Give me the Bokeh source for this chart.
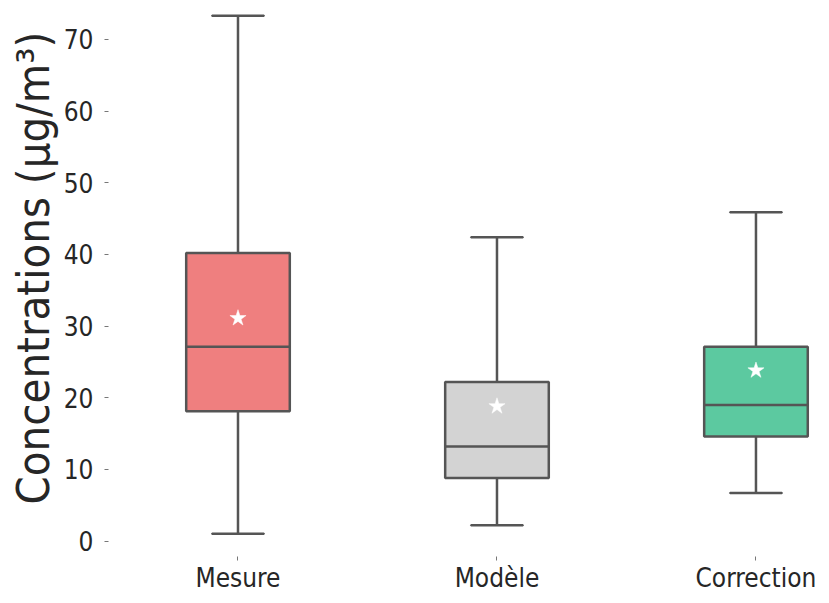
from bokeh.plotting import figure
from bokeh.models import FixedTicker, ColumnDataSource, Title
from bokeh.embed import file_html
from bokeh.resources import INLINE

categories = ["Mesure", "Modèle", "Correction"]
whisker_low = [1.0, 2.2, 6.7]
q1 = [18.1, 8.8, 14.6]
median = [27.1, 13.2, 19.0]
q3 = [40.2, 22.2, 27.1]
whisker_high = [73.3, 42.4, 45.9]
means = [31.1, 18.8, 23.8]
colors = ["#EF7F7F", "#D3D3D3", "#5CC9A0"]
y_ticks = [0, 10, 20, 30, 40, 50, 60, 70]
y_label = "Concentrations (μg/m³)"

FONT = "DejaVu Sans Condensed, DejaVu Sans"
EDGE = "#555555"

xpos = list(range(len(categories)))
src = ColumnDataSource(dict(
    x=xpos, lo=whisker_low, q1=q1, med=median, q3=q3, hi=whisker_high,
    mean=means, color=colors,
))

p = figure(width=821, height=595, x_range=(-0.5, 2.253), y_range=(-2.16, 74.32),
           output_backend="svg", toolbar_location=None,
           min_border_left=108, min_border_right=0, min_border_top=8,
           min_border_bottom=35)

# whiskers
p.segment(x0="x", y0="q3", x1="x", y1="hi", source=src, line_color=EDGE, line_width=2.5)
p.segment(x0="x", y0="lo", x1="x", y1="q1", source=src, line_color=EDGE, line_width=2.5)
p.rect(x="x", y="hi", width=0.2, height=0.0001, source=src, line_color=EDGE, line_width=2.5, fill_alpha=0)
p.rect(x="x", y="lo", width=0.2, height=0.0001, source=src, line_color=EDGE, line_width=2.5, fill_alpha=0)
# boxes
p.vbar(x="x", bottom="q1", top="q3", width=0.4, source=src, fill_color="color",
       line_color=EDGE, line_width=2.5)
p.rect(x="x", y="med", width=0.4, height=0.0001, source=src, line_color=EDGE, line_width=2.5, fill_alpha=0)
# means
p.scatter(x="x", y="mean", source=src, marker="star", size=17, fill_color="white",
          line_color="white", line_width=0.5)

p.xaxis.ticker = FixedTicker(ticks=xpos)
p.xaxis.major_label_overrides = {i: c for i, c in enumerate(categories)}
p.yaxis.ticker = FixedTicker(ticks=y_ticks)

for ax in (p.xaxis[0], p.yaxis[0]):
    ax.axis_line_color = None
    ax.minor_tick_line_color = None
    ax.major_tick_line_color = "#777777"
    ax.major_tick_line_width = 1
    ax.major_tick_in = 0
    ax.major_tick_out = 4
    ax.major_label_text_font = FONT
    ax.major_label_text_font_size = "26px"
    ax.major_label_text_color = "#262626"

p.xaxis.major_label_standoff = 2
p.yaxis.major_label_standoff = 11

ytitle = Title(text=y_label, align="left", offset=52, standoff=2,
               text_font=FONT, text_font_size="45px", text_font_style="normal",
               text_color="#262626")
p.add_layout(ytitle, "left")

p.xgrid.grid_line_color = None
p.ygrid.grid_line_color = None
p.outline_line_color = None
p.background_fill_color = "white"
p.border_fill_color = "white"

open("out.html", "w").write(file_html(p, INLINE))
